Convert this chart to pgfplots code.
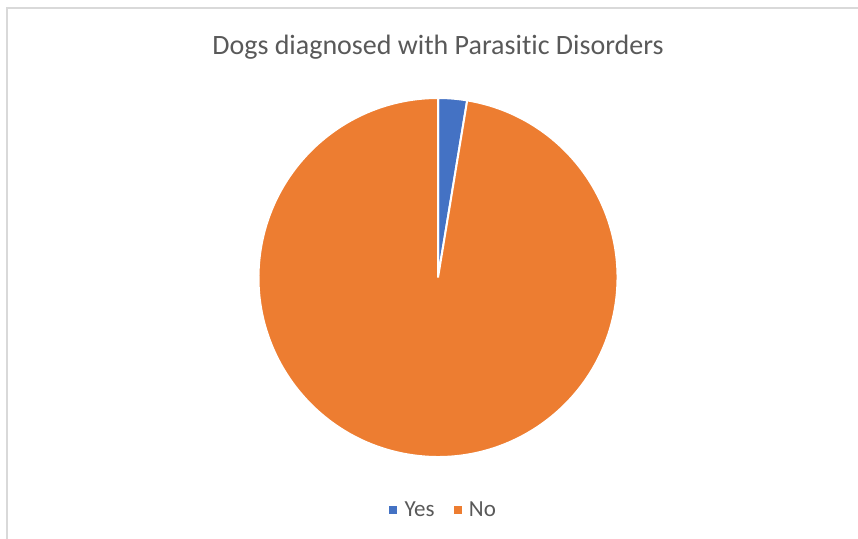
\documentclass[border=0pt]{standalone}
\usepackage{pgfplots}
\usepackage{pgfplotstable}
\pgfplotsset{compat=1.18}
\usepackage{fontspec}
\setmainfont{Carlito}[Ligatures=NoCommon]

\definecolor{yescol}{HTML}{4472C4}
\definecolor{nocol}{HTML}{ED7D31}
\definecolor{txtgrey}{HTML}{595959}
\definecolor{framegrey}{HTML}{D9D9D9}

% share of dogs, in percent
\pgfplotstableread{
label value
Yes   2.6
No    97.4
}\piedata

\pgfplotstablegetelem{0}{value}\of\piedata \let\yesval\pgfplotsretval
\pgfplotstablegetelem{1}{value}\of\piedata \let\noval\pgfplotsretval
\pgfmathsetmacro{\total}{\yesval+\noval}
\pgfmathsetmacro{\yesend}{90-360*\yesval/\total}

\begin{document}
\begin{tikzpicture}
\path[use as bounding box] (0,0) rectangle (858bp,539bp);
\begin{axis}[
    scale only axis,
    width=858bp, height=539bp,
    xmin=0, xmax=858, ymin=0, ymax=539,
    hide axis, clip=false,
    legend columns=2,
    legend style={
        at={(axis cs:443.5,29)}, anchor=center,
        draw=none, fill=none,
        font=\fontsize{23bp}{26bp}\selectfont\color{txtgrey},
        /tikz/every odd column/.append style={column sep=6bp},
        /tikz/every even column/.append style={column sep=17bp},
    },
    legend image code/.code={
        \fill[#1] (0bp,-3.5bp) rectangle (7bp,3.5bp);
    },
]
% slices, clockwise from 12 o'clock
\fill[yescol, draw=white, line width=2bp]
    (axis cs:438,261.5) -- ++(90:179.5bp)
    arc[start angle=90, end angle=\yesend, radius=179.5bp] -- cycle;
\fill[nocol, draw=white, line width=2bp]
    (axis cs:438,261.5) -- ++(\yesend:179.5bp)
    arc[start angle=\yesend, end angle=-270, radius=179.5bp] -- cycle;

\addlegendimage{yescol, fill=yescol}
\addlegendentry{Yes}
\addlegendimage{nocol, fill=nocol}
\addlegendentry{No}

% chart frame and title
\draw[framegrey, line width=2bp] (axis cs:6.5,0) |- (axis cs:858,530.5);
\node[txtgrey, font=\fontsize{28bp}{32bp}\selectfont] at (axis cs:438,492) {Dogs diagnosed with Parasitic Disorders};
\end{axis}
\end{tikzpicture}
\end{document}
